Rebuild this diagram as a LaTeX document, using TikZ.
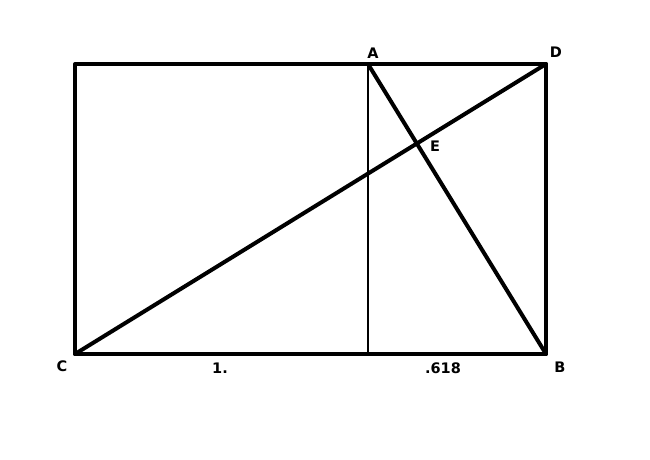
\documentclass[tikz,border=0pt]{standalone}
\usepackage{fontspec}
\setmainfont{DejaVu Sans}
\begin{document}
\begin{tikzpicture}[x=1pt,y=-1pt,
  thickline/.style={line width=4pt, line cap=round, line join=round},
  thinline/.style={line width=1.7pt},
  lbl/.style={font=\bfseries\fontsize{14.5}{14.5}\selectfont, inner sep=0pt}]
\useasboundingbox (0,0) rectangle (650,459);
\coordinate (C) at (75,354);
\coordinate (B) at (546,354);
\coordinate (D) at (546,64);
\coordinate (TL) at (75,64);
\coordinate (A) at (368,64);
\coordinate (F) at (368,354);
\draw[thickline] (TL) -- (D) -- (B) -- (C) -- cycle;
\draw[thinline] (A) -- (F);
\draw[thickline] (C) -- (D);
\draw[thickline] (A) -- (B);
\node[lbl] (lA) at (373,53) {A};
\node[lbl] (lD) at (556,52) {D};
\node[lbl] (lE) at (435,146) {E};
\node[lbl] (lC) at (62,366) {C};
\node[lbl] (lB) at (560,367) {B};
\node[lbl] (l1) at (220,368) {1.};
\node[lbl] (l618) at (443,368) {.618};
\end{tikzpicture}
\end{document}
